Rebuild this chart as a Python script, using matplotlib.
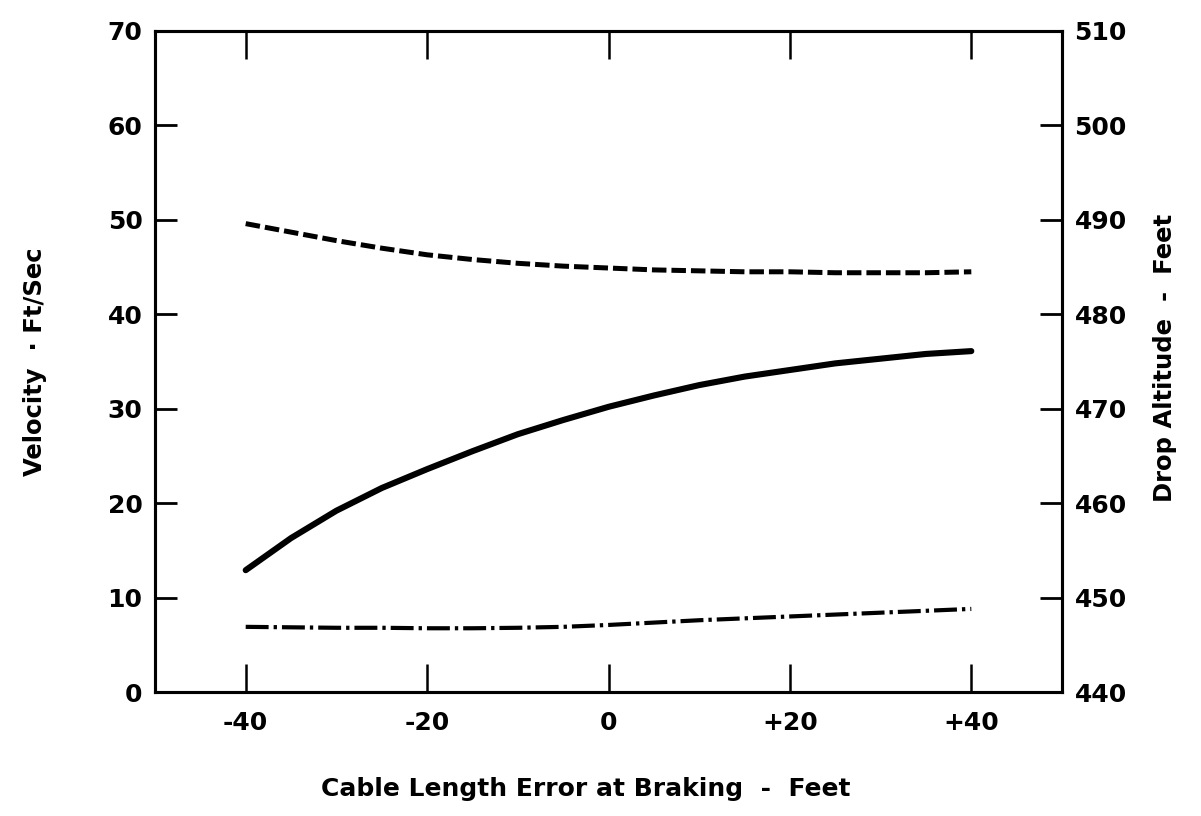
import matplotlib
matplotlib.use("Agg")
import matplotlib.pyplot as plt

# Data (left axis: Velocity, Ft/Sec)
cable_error = [-40, -35, -30, -25, -20, -15, -10, -5, 0, 5, 10, 15, 20, 25, 30, 35, 40]
solid_curve = [12.9, 16.3, 19.2, 21.6, 23.6, 25.5, 27.3, 28.8, 30.2, 31.4, 32.5,
               33.4, 34.1, 34.8, 35.3, 35.8, 36.1]
dashed_curve = [49.6, 48.7, 47.8, 47.0, 46.3, 45.8, 45.4, 45.1, 44.9, 44.7, 44.6,
                44.5, 44.5, 44.4, 44.4, 44.4, 44.5]
dashdot_curve = [6.9, 6.85, 6.8, 6.8, 6.75, 6.75, 6.8, 6.9, 7.1, 7.35, 7.6,
                 7.8, 8.0, 8.2, 8.4, 8.6, 8.8]

x_ticks = [-40, -20, 0, 20, 40]
x_ticklabels = ["-40", "-20", "0", "+20", "+40"]
left_ticks = [0, 10, 20, 30, 40, 50, 60, 70]
right_ticks = [440, 450, 460, 470, 480, 490, 500, 510]

plt.rcParams['font.family'] = ['DejaVu Sans']
plt.rcParams['font.weight'] = 'bold'

fig = plt.figure(figsize=(12.01, 8.16), dpi=100)
ax = fig.add_axes([155/1201, 1-692/816, (1062-155)/1201, (692-31)/816])

ax.plot(cable_error, solid_curve, color='black', lw=4.4, solid_capstyle='round',
        solid_joinstyle='round')
l2, = ax.plot(cable_error, dashed_curve, color='black', lw=3.6)
l2.set_dashes((2.9, 1.0))
l3, = ax.plot(cable_error, dashdot_curve, color='black', lw=3.0)
l3.set_dashes((5.5, 1.2, 0.8, 1.2))

ax.set_xlim(-50, 50)
ax.set_ylim(0, 70)
ax.set_xticks(x_ticks)
ax.set_xticklabels(x_ticklabels)
ax.set_yticks(left_ticks)

for s in ax.spines.values():
    s.set_linewidth(2.2)

ax.tick_params(axis='x', direction='in', length=20, width=1.8, top=True, bottom=True,
               labelsize=18, pad=14)
ax.tick_params(axis='y', direction='in', length=16, width=2.0, left=True,
               labelsize=18, pad=9)

ax2 = ax.twinx()
ax2.set_ylim(440, 510)
ax2.set_yticks(right_ticks)
ax2.tick_params(axis='y', direction='in', length=16, width=2.0, labelsize=18, pad=9)
for s in ax2.spines.values():
    s.set_linewidth(2.2)

for lab in ax.get_xticklabels() + ax.get_yticklabels() + ax2.get_yticklabels():
    lab.set_fontweight('bold')

fig.text(35/1201, 1-362/816, "Velocity  \u00b7 Ft/Sec", rotation=90, ha='center', va='center',
         fontsize=17.5, fontweight='bold')
fig.text(1165/1201, 1-358/816, "Drop Altitude  -  Feet", rotation=90, ha='center', va='center',
         fontsize=17.5, fontweight='bold')
fig.text(586/1201, 1-789/816, "Cable Length Error at Braking  -  Feet", ha='center', va='center',
         fontsize=18, fontweight='bold')

fig.savefig("out.png", dpi=100, facecolor='white')
